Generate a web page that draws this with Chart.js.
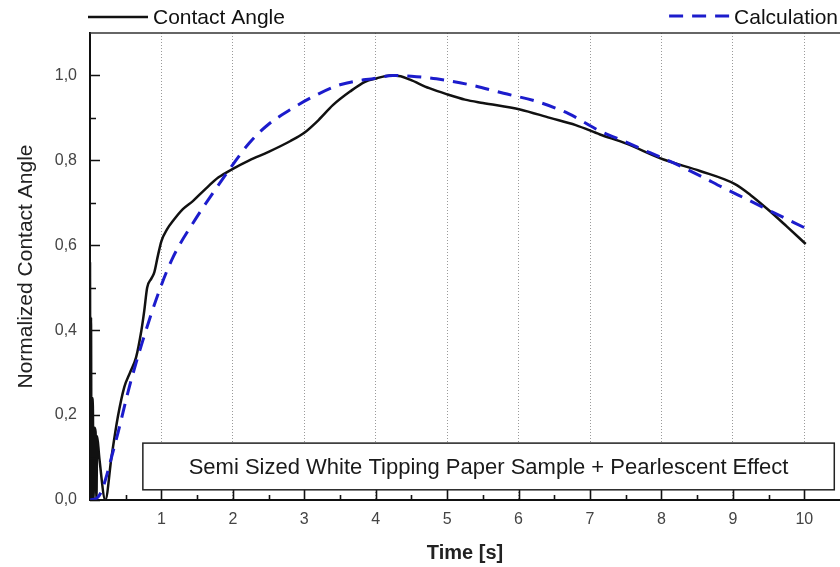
<!DOCTYPE html>
<html>
<head>
<meta charset="utf-8">
<script src="https://cdn.jsdelivr.net/npm/chart.js@4/dist/chart.umd.min.js"></script>
<style>
  html, body { margin: 0; padding: 0; background: #ffffff; }
  #wrap { position: relative; width: 840px; height: 567px; }
</style>
</head>
<body>
<div id="wrap"><canvas id="c" width="840" height="567"></canvas></div>
<script>
// ---- Data ----
const contactTime = [0.000, 0.007, 0.014, 0.021, 0.030, 0.040, 0.050, 0.062, 0.078, 0.090, 0.100, 0.130, 0.215,
  0.30, 0.39, 0.48, 0.56, 0.645, 0.72, 0.76, 0.80, 0.86, 0.90, 0.95, 1.00, 1.08, 1.16, 1.30, 1.44, 1.60, 1.80,
  2.00, 2.23, 2.50, 2.80, 3.00, 3.20, 3.40, 3.64, 3.85, 4.01, 4.20, 4.35, 4.48, 4.75, 5.01, 5.25, 5.50, 6.02,
  6.44, 6.80, 7.14, 7.50, 8.03, 8.54, 9.03, 9.25, 9.50, 9.75, 10.02];
const contactAngle = [0.56, 0.00, 0.43, 0.00, 0.24, 0.22, 0.00, 0.17, 0.16, 0.00, 0.15, 0.10, 0.00,
  0.10, 0.196, 0.266, 0.30, 0.336, 0.40, 0.446, 0.50, 0.522, 0.536, 0.575, 0.61, 0.638, 0.657, 0.685, 0.704, 0.73, 0.76,
  0.78, 0.80, 0.82, 0.845, 0.865, 0.895, 0.93, 0.962, 0.985, 0.993, 1.00, 0.998, 0.99, 0.97, 0.955, 0.943, 0.935, 0.92,
  0.90, 0.883, 0.861, 0.84, 0.802, 0.775, 0.744, 0.718, 0.683, 0.645, 0.603];

const calcTime = [0.00, 0.10, 0.16, 0.22, 0.30, 0.39, 0.55, 0.74, 0.97, 1.16, 1.49, 1.75, 2.00, 2.23, 2.50, 2.80,
  3.10, 3.50, 4.01, 4.24, 4.50, 4.85, 5.32, 5.79, 6.25, 6.70, 7.14, 7.42, 7.84, 8.17, 8.55, 8.87, 9.25, 9.57, 10.02];
const calcValue = [0.000, 0.005, 0.020, 0.050, 0.100, 0.157, 0.266, 0.376, 0.493, 0.571, 0.665, 0.73, 0.79, 0.841, 0.885, 0.919,
  0.948, 0.978, 0.994, 1.000, 0.998, 0.992, 0.978, 0.958, 0.939, 0.91, 0.869, 0.849, 0.818, 0.794, 0.763, 0.735, 0.704, 0.677, 0.64];

const xMajorTicks = [1, 2, 3, 4, 5, 6, 7, 8, 9, 10];
const xMinorTicks = [0.5, 1.5, 2.5, 3.5, 4.5, 5.5, 6.5, 7.5, 8.5, 9.5];
const yMajorTicks = [0.0, 0.2, 0.4, 0.6, 0.8, 1.0];
const yMinorTicks = [0.1, 0.3, 0.5, 0.7, 0.9];

const seriesNames = ['Contact Angle', 'Calculation'];
const xTitle = 'Time [s]';
const yTitle = 'Normalized Contact Angle';
const noteText = 'Semi Sized White Tipping Paper Sample + Pearlescent Effect';

const FONT = "'Liberation Sans', Arial, sans-serif";

function pts(xs, ys) { return xs.map((x, i) => ({ x: x, y: ys[i] })); }

// Inward tick marks + top frame line
const frameTicks = {
  id: 'frameTicks',
  afterDraw(chart) {
    const { ctx, chartArea: a, scales: { x, y } } = chart;
    ctx.save();
    ctx.strokeStyle = '#111';
    ctx.lineWidth = 1.6;
    ctx.beginPath();
    xMajorTicks.forEach(v => { const p = Math.round(x.getPixelForValue(v)) + 0.5; ctx.moveTo(p, a.bottom); ctx.lineTo(p, a.bottom - 10); });
    xMinorTicks.forEach(v => { const p = Math.round(x.getPixelForValue(v)) + 0.5; ctx.moveTo(p, a.bottom); ctx.lineTo(p, a.bottom - 5); });
    yMajorTicks.forEach(v => { const p = Math.round(y.getPixelForValue(v)) + 0.5; ctx.moveTo(a.left, p); ctx.lineTo(a.left + 10, p); });
    yMinorTicks.forEach(v => { const p = Math.round(y.getPixelForValue(v)) + 0.5; ctx.moveTo(a.left, p); ctx.lineTo(a.left + 6, p); });
    ctx.stroke();
    // top frame
    ctx.strokeStyle = '#333';
    ctx.lineWidth = 1.5;
    ctx.beginPath();
    ctx.moveTo(a.left, a.top);
    ctx.lineTo(a.right, a.top);
    ctx.stroke();
    ctx.restore();
  }
};

// Annotation box inside the plot
const noteBox = {
  id: 'noteBox',
  afterDraw(chart) {
    const { ctx, scales: { x, y } } = chart;
    const l = x.getPixelForValue(0.74), r = x.getPixelForValue(10.42);
    const t = y.getPixelForValue(0.134), b = y.getPixelForValue(0.024);
    ctx.save();
    ctx.fillStyle = '#ffffff';
    ctx.fillRect(l, t, r - l, b - t);
    ctx.strokeStyle = '#222';
    ctx.lineWidth = 1.5;
    ctx.strokeRect(l, t, r - l, b - t);
    ctx.fillStyle = '#1a1a1a';
    ctx.font = '22px ' + FONT;
    ctx.textAlign = 'center';
    ctx.textBaseline = 'middle';
    ctx.fillText(noteText, (l + r) / 2, (t + b) / 2 + 1);
    ctx.restore();
  }
};

// Legend at the top: one entry at the left, one at the right
const topLegend = {
  id: 'topLegend',
  afterDraw(chart) {
    const { ctx, chartArea: a } = chart;
    const ds = chart.data.datasets;
    const yMid = 17;
    ctx.save();
    ctx.font = '21px ' + FONT;
    ctx.textBaseline = 'middle';
    ctx.textAlign = 'left';
    // entry 1 (left)
    ctx.strokeStyle = ds[0].borderColor;
    ctx.lineWidth = 2.5;
    ctx.setLineDash([]);
    ctx.beginPath(); ctx.moveTo(a.left - 2, yMid); ctx.lineTo(a.left + 58, yMid); ctx.stroke();
    ctx.fillStyle = '#111';
    ctx.fillText(ds[0].label, a.left + 63, yMid + 1);
    // entry 2 (right)
    const w = ctx.measureText(ds[1].label).width;
    const tx = a.right - 2 - w;
    ctx.strokeStyle = ds[1].borderColor;
    ctx.lineWidth = 3;
    ctx.setLineDash([14, 9]);
    ctx.beginPath(); ctx.moveTo(tx - 65, yMid - 1); ctx.lineTo(tx - 4, yMid - 1); ctx.stroke();
    ctx.setLineDash([]);
    ctx.fillText(ds[1].label, tx, yMid + 1);
    ctx.restore();
  }
};

new Chart(document.getElementById('c'), {
  type: 'line',
  data: {
    datasets: [
      {
        label: seriesNames[0],
        data: pts(contactTime, contactAngle),
        borderColor: '#111111',
        borderWidth: 2.5,
        pointRadius: 0,
        fill: false,
        cubicInterpolationMode: 'monotone',
        order: 1
      },
      {
        label: seriesNames[1],
        data: pts(calcTime, calcValue),
        borderColor: '#1c1ccc',
        borderWidth: 3,
        borderDash: [14, 9],
        pointRadius: 0,
        fill: false,
        cubicInterpolationMode: 'monotone',
        order: 0
      }
    ]
  },
  options: {
    responsive: false,
    animation: false,
    layout: { padding: { top: 33, left: 0, right: 0, bottom: 0 } },
    plugins: { legend: { display: false }, tooltip: { enabled: false } },
    scales: {
      x: {
        type: 'linear',
        min: 0, max: 10.5,
        afterBuildTicks: s => { s.ticks = xMajorTicks.map(v => ({ value: v })); },
        afterFit: s => { s.height = 67; },
        ticks: { padding: 10, color: '#444', font: { family: FONT, size: 16 }, maxRotation: 0, autoSkip: false,
                 callback: v => String(v) },
        grid: { display: true, drawTicks: false, color: '#9a9a9a', lineWidth: 1 },
        border: { display: true, color: '#111', width: 2, dash: [1, 2] },
        title: { display: true, text: xTitle, color: '#222', font: { family: FONT, size: 20, weight: 'bold' }, padding: { top: 0, bottom: 2 } }
      },
      y: {
        type: 'linear',
        min: 0, max: 1.1,
        afterBuildTicks: s => { s.ticks = yMajorTicks.map(v => ({ value: v })); },
        afterFit: s => { s.width = 90; },
        ticks: { padding: 13, color: '#444', font: { family: FONT, size: 16 }, autoSkip: false,
                 callback: v => v.toFixed(1).replace('.', ',') },
        grid: { display: false, drawTicks: false },
        border: { display: true, color: '#111', width: 2 },
        title: { display: true, text: yTitle, color: '#222', font: { family: FONT, size: 21 }, padding: { top: 14, bottom: 0 } }
      }
    }
  },
  plugins: [frameTicks, noteBox, topLegend]
});
</script>
</body>
</html>
